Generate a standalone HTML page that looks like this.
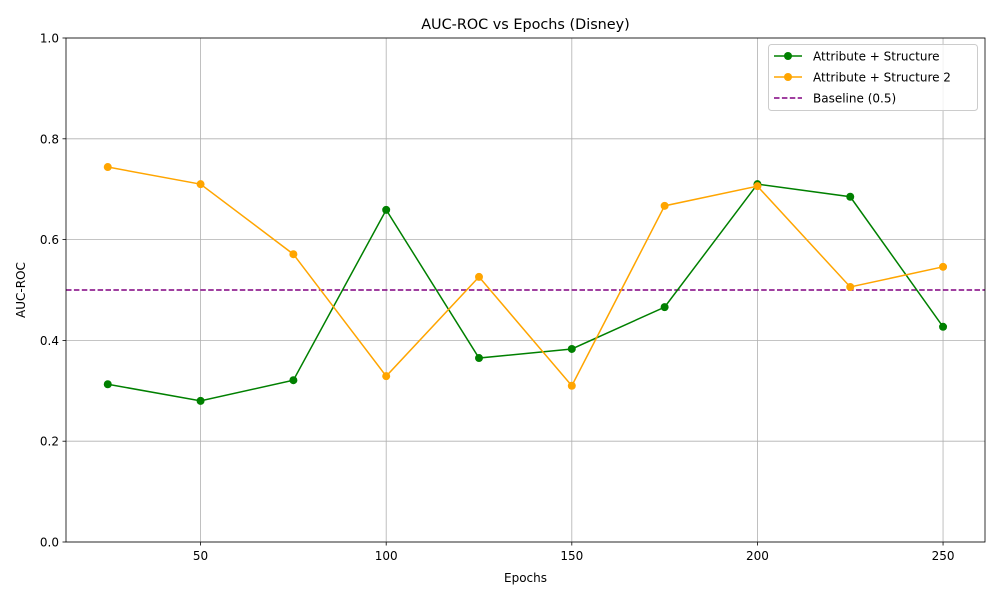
<!DOCTYPE html>
<html><head><meta charset="utf-8"><style>
body{margin:0;background:#fff;font-family:"DejaVu Sans","Liberation Sans",sans-serif;}
svg text{font-family:"DejaVu Sans","Liberation Sans",sans-serif;}
</style></head><body>
<svg id="chart" width="1000" height="600" xmlns="http://www.w3.org/2000/svg"></svg>
<script>
const epochs=[25,50,75,100,125,150,175,200,225,250];
const seriesA=[0.313,0.280,0.321,0.659,0.365,0.383,0.466,0.710,0.685,0.427];
const seriesB=[0.744,0.710,0.571,0.329,0.526,0.310,0.667,0.706,0.506,0.546];
const baseline=0.5;
const xTicks=[50,100,150,200,250];
const yTicks=[0,0.2,0.4,0.6,0.8,1.0];
const L=66,R=985,T=38,B=542,xmin=13.75,xmax=261.3;
const X=v=>L+(v-xmin)/(xmax-xmin)*(R-L);
const Y=v=>B-v*(B-T);
const svg=document.getElementById('chart');
const NS='http://www.w3.org/2000/svg';
function mk(tag,attrs,parent){const e=document.createElementNS(NS,tag);for(const k in attrs)e.setAttribute(k,attrs[k]);(parent||svg).appendChild(e);return e;}
// grid
xTicks.forEach(t=>{const l=mk('line',{x1:X(t),x2:X(t),y1:T,y2:B,stroke:'#b0b0b0','stroke-width':0.8});


const k=mk('line',{x1:X(t),x2:X(t),y1:B,y2:B+3.5,stroke:'#000','stroke-width':0.8});
const tx=mk('text',{x:X(t),y:B+18,'font-size':12,'text-anchor':'middle'});tx.textContent=t;

});
yTicks.forEach(t=>{const l=mk('line',{x1:L,x2:R,y1:Y(t),y2:Y(t),stroke:'#b0b0b0','stroke-width':0.8});


mk('line',{x1:L-3.5,x2:L,y1:Y(t),y2:Y(t),stroke:'#000','stroke-width':0.8});
const tx=mk('text',{x:L-7,y:Y(t)+4.5,'font-size':12,'text-anchor':'end'});tx.textContent=t.toFixed(1);

});
// baseline
const bl=mk('line',{x1:L,x2:R,y1:Y(baseline),y2:Y(baseline),stroke:'purple','stroke-width':1.5,'stroke-dasharray':'5.5,2.4'});


function series(vals,color,name){
 const p=mk('polyline',{points:vals.map((v,i)=>X(epochs[i])+','+Y(v)).join(' '),fill:'none',stroke:color,'stroke-width':1.5});
 
 
 vals.forEach((v,i)=>{const c=mk('circle',{cx:X(epochs[i]),cy:Y(v),r:4,fill:color});
 
 });
}
series(seriesA,'green','attribute-structure');
series(seriesB,'orange','attribute-structure-2');
// frame
const fr=mk('rect',{x:L,y:T,width:R-L,height:B-T,fill:'none',stroke:'#000','stroke-width':0.8});


// titles
const ti=mk('text',{x:(L+R)/2,y:29,'font-size':14.4,'text-anchor':'middle'});ti.textContent='AUC-ROC vs Epochs (Disney)';


const xt=mk('text',{x:(L+R)/2,y:582,'font-size':12,'text-anchor':'middle'});xt.textContent='Epochs';


const yt=mk('text',{x:25,y:(T+B)/2,'font-size':12,'text-anchor':'middle',transform:'rotate(-90 25 '+((T+B)/2)+')'});yt.textContent='AUC-ROC';


// legend
const lg=mk('g',{});


mk('rect',{x:768.5,y:44.5,width:209,height:66,rx:3,fill:'#fff','fill-opacity':0.8,stroke:'#ccc'},lg);
const items=[['Attribute + Structure','green',false],['Attribute + Structure 2','orange',false],['Baseline (0.5)','purple',true]];
items.forEach((it,i)=>{const y=56+i*21;
 const g=mk('g',{},lg);
 
 
 mk('line',{x1:774,x2:802,y1:y,y2:y,stroke:it[1],'stroke-width':1.5,'stroke-dasharray':it[2]?'5.5,2.4':'none'},g);
 if(!it[2])mk('circle',{cx:788,cy:y,r:4,fill:it[1]},g);
 const t=mk('text',{x:813,y:y+4.5,'font-size':12},g);t.textContent=it[0];});
</script>
</body></html>
